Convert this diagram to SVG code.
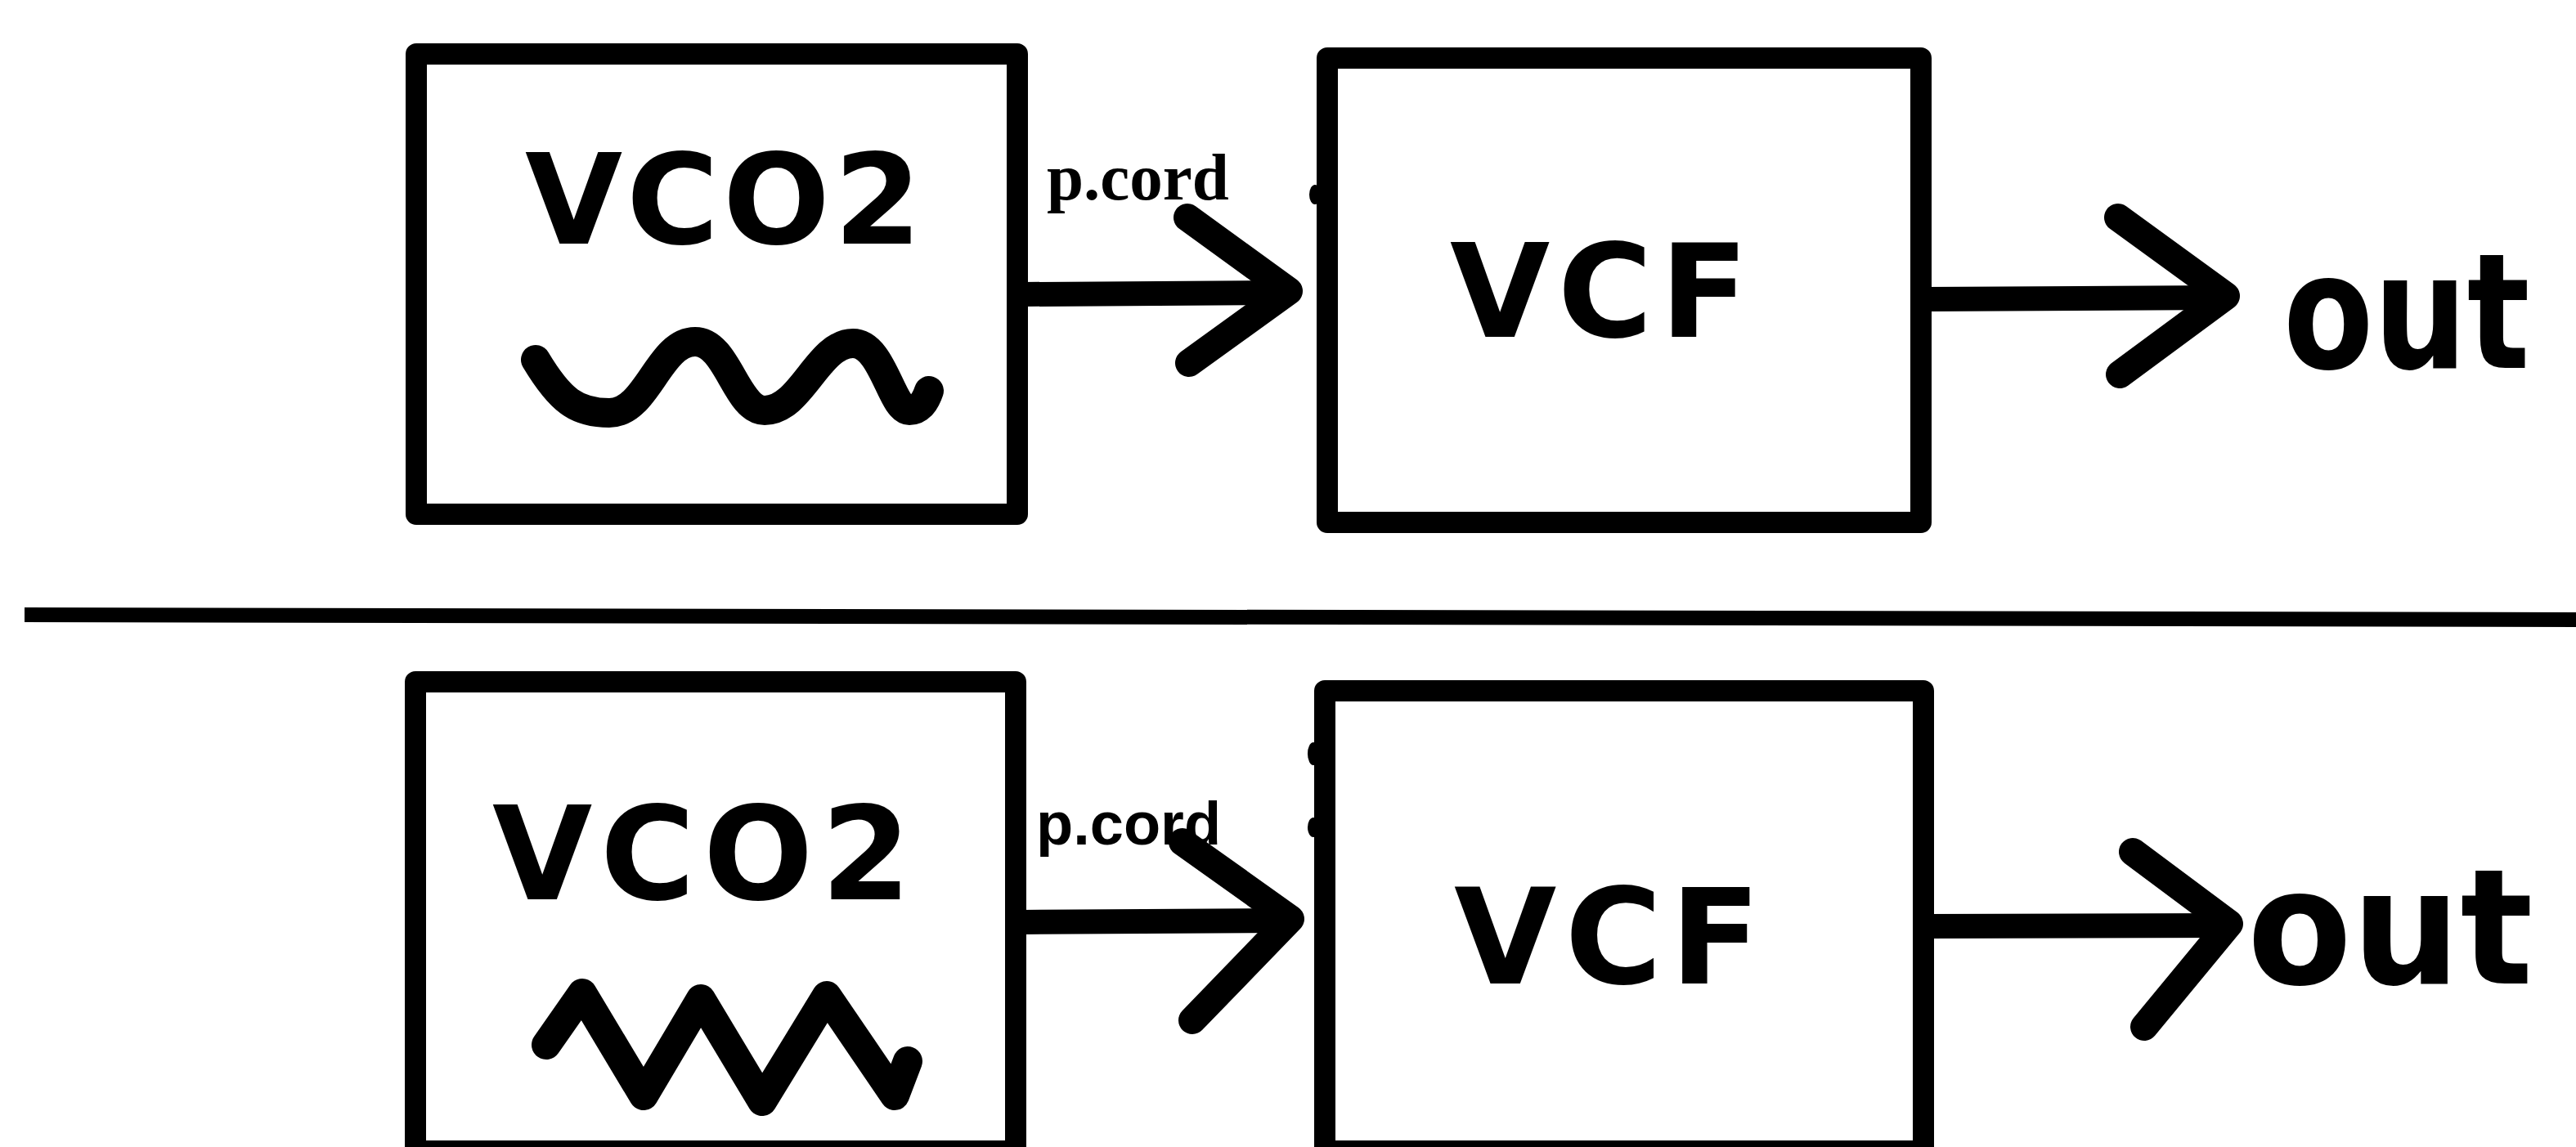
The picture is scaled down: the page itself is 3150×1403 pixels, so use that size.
<svg xmlns="http://www.w3.org/2000/svg" width="3150" height="1403" viewBox="0 0 3150 1403">
<style>
.box{fill:none;stroke:#000;stroke-width:26;stroke-linejoin:round}
.wave{fill:none;stroke:#000;stroke-width:36;stroke-linecap:round;stroke-linejoin:round}
.line{fill:none;stroke:#000;stroke-width:30;stroke-linecap:butt}
.head{fill:none;stroke:#000;stroke-width:34;stroke-linecap:round;stroke-linejoin:round}
.hand{font-family:"DejaVu Sans",sans-serif;font-weight:bold;fill:#000}
.serif{font-family:"Liberation Serif",serif;font-weight:bold;fill:#000}
.lbl{font-family:"Liberation Sans",sans-serif;font-weight:bold;fill:#000}
.bump{fill:#000}
</style>
<rect width="3150" height="1403" fill="#fff"/>

<g id="top-vco2">
  <rect class="box" x="509" y="66" width="735" height="563"/>
  <text class="hand" x="642" y="298" font-size="154" textLength="485">VCO2</text>
  <path class="wave" d="M655,440 C685,490 705,505 745,505 C792,505 805,418 850,418 C890,418 900,502 935,502 C980,502 1000,420 1043,420 C1080,420 1090,502 1112,502 C1125,502 1132,490 1136,478"/>
</g>

<g id="top-vcf">
  <rect class="box" x="1623" y="71" width="726" height="568"/>
  <ellipse class="bump" cx="1608" cy="238" rx="7" ry="12"/>
  <text class="hand" x="1773" y="412" font-size="158" textLength="365">VCF</text>
</g>

<g id="top-out">
  <text class="hand" transform="translate(2792,450) scale(0.82,1)" x="0" y="0" font-size="196">out</text>
</g>

<g id="bottom-vco2">
  <rect class="box" x="508" y="834" width="734" height="574"/>
  <text class="hand" x="602" y="1100" font-size="158" textLength="512">VCO2</text>
  <path class="wave" d="M668,1278 L712,1215 L787,1340 L857,1222 L932,1347 L1011,1218 L1094,1340 L1110,1298"/>
</g>

<g id="bottom-vcf">
  <rect class="box" x="1620" y="845" width="732" height="563"/>
  <ellipse class="bump" cx="1606" cy="922" rx="7" ry="14"/>
  <ellipse class="bump" cx="1606" cy="1012" rx="7" ry="12"/>
  <text class="hand" x="1778" y="1203" font-size="162" textLength="375">VCF</text>
</g>

<g id="bottom-out">
  <text class="hand" transform="translate(2748,1203) scale(0.95,1)" x="0" y="0" font-size="196">out</text>
</g>

<g id="divider">
  <line x1="30" y1="752" x2="3150" y2="758" stroke="#000" stroke-width="18"/>
</g>

<g id="connectors">
  <line class="line" x1="1250" y1="360" x2="1572" y2="358"/>
  <polyline class="head" points="1452,266 1576,356 1454,444"/>
  <text class="serif" x="1280" y="244" font-size="81">p.cord</text>

  <line class="line" x1="2355" y1="366" x2="2718" y2="364"/>
  <polyline class="head" points="2590,266 2722,362 2592,458"/>

  <line class="line" x1="1248" y1="1128" x2="1574" y2="1126"/>
  <polyline class="head" points="1446,1030 1578,1124 1458,1248"/>
  <text class="lbl" x="1267" y="1033" font-size="74">p.cord</text>

  <line class="line" x1="2358" y1="1133" x2="2722" y2="1132"/>
  <polyline class="head" points="2608,1042 2726,1130 2622,1256"/>
</g>
</svg>
